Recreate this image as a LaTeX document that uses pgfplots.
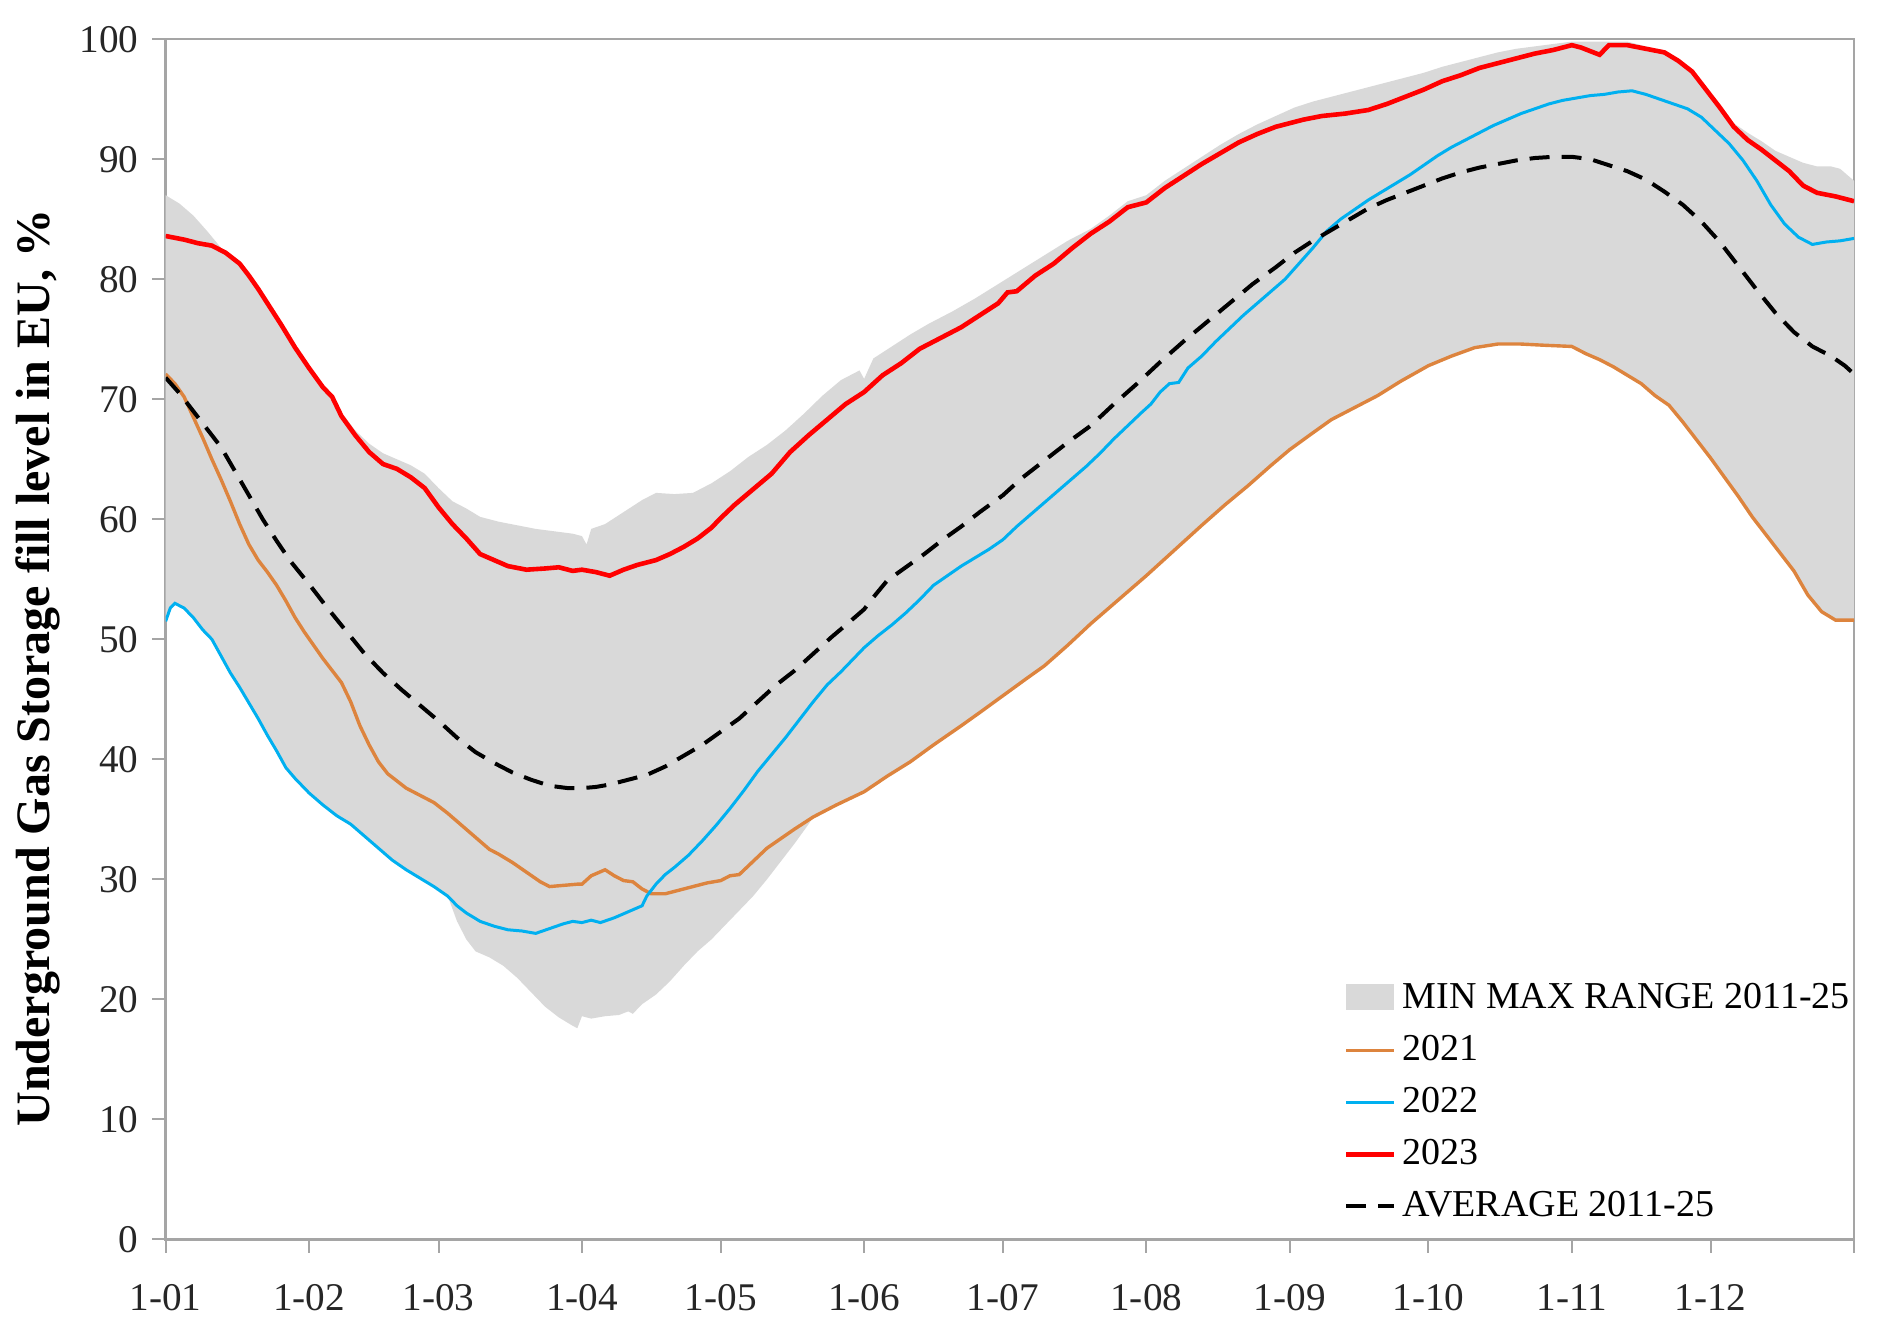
\documentclass[border=0pt]{standalone}
\usepackage{fontspec}
\setmainfont{Liberation Serif}
\usepackage{pgfplots}
\pgfplotsset{compat=1.18}
\definecolor{cfill}{RGB}{217,217,217}
\definecolor{c21}{RGB}{221,132,62}
\definecolor{c22}{RGB}{0,176,240}
\definecolor{c23}{RGB}{255,0,0}
\definecolor{caxis}{RGB}{165,165,165}
\begin{document}
\begin{tikzpicture}
\path[use as bounding box] (-41.4pt,-23.5pt) rectangle (428.5pt,309.8pt);
\begin{axis}[
  at={(0pt,0pt)}, anchor=south west,
  scale only axis, width=422pt, height=300pt,
  xmin=0, xmax=365, ymin=0, ymax=100,
  xtick={0,31,59,90,120,151,181,212,243,273,304,334,365},
  xticklabels={1-01,1-02,1-03,1-04,1-05,1-06,1-07,1-08,1-09,1-10,1-11,1-12,{}},
  ytick={0,10,...,100},
  tick pos=left, tick align=outside, major tick length=3.3pt,
  axis line style={caxis, line width=0.6pt},
  every tick/.style={caxis, line width=0.5pt},
  /pgf/number format/assume math mode=true,
  tick label style={font=\fontsize{9.8}{11}\selectfont, text=black!85},
  xticklabel style={yshift=-4.5pt},
  ylabel={Underground Gas Storage fill level in EU, \%},
  ylabel style={font=\fontsize{12}{14}\selectfont\bfseries, at={(axis description cs:-0.0755,0.476)}, anchor=center},
  legend cell align=left,
  legend style={draw=none, fill=none, at={(axis description cs:0.6975,0.007)}, anchor=south west,
    font=\fontsize{9.5}{11}\selectfont, inner sep=0pt, row sep=1pt,
    nodes={inner sep=1.5pt, text height=7pt, text depth=2pt}},
  legend image code/.code={\draw[#1] (0pt,0pt) -- (12pt,0pt);},
]
\addplot[fill=cfill, draw=none, legend image code/.code={\fill[cfill] (0pt,-3pt) rectangle (12pt,3.5pt);}] coordinates {
(0,87.0)(3,86.3)(6,85.3)(9,84.0)(12,82.6)(13,82.4)(16,81.5)(18,80.5)(20,79.4)(22,78.2)(25,76.4)(28,74.5)(31,72.8)(34,71.2)(36,70.4)(38,68.9)(41,67.4)(44,66.3)(47,65.5)(50,65.0)(53,64.5)(56,63.8)(59,62.6)(62,61.5)(65,60.9)(68,60.2)(72,59.8)(76,59.5)(80,59.2)(84,59.0)(88,58.8)(90,58.6)(91,57.9)(92,59.2)(95,59.6)(99,60.6)(103,61.6)(106,62.2)(110,62.1)(114,62.2)(118,63.0)(122,64.0)(126,65.2)(130,66.2)(134,67.4)(138,68.8)(142,70.3)(146,71.6)(150,72.4)(151,71.7)(153,73.4)(157,74.4)(161,75.4)(165,76.3)(170,77.3)(175,78.4)(180,79.6)(185,80.8)(190,82.0)(195,83.2)(200,84.2)(204,85.3)(208,86.5)(212,87.0)(216,88.2)(220,89.2)(224,90.2)(228,91.2)(232,92.1)(236,92.9)(240,93.6)(244,94.3)(248,94.8)(252,95.2)(256,95.6)(260,96.0)(264,96.4)(268,96.8)(272,97.2)(276,97.7)(280,98.1)(284,98.5)(288,98.9)(292,99.2)(296,99.4)(300,99.6)(304,99.8)(310,99.8)(316,99.8)(320,99.4)(324,99.0)(327,98.3)(330,97.4)(333,96.0)(336,94.6)(339,93.0)(342,92.2)(345,91.5)(348,90.7)(351,90.2)(354,89.7)(357,89.4)(360,89.4)(362,89.2)(365,88.2)
(365,51.6)(361,51.6)(358,52.3)(355,53.7)(352,55.7)(349,57.2)(346,58.7)(343,60.2)(340,61.9)(337,63.5)(334,65.1)(331,66.6)(328,68.1)(325,69.5)(322,70.3)(319,71.3)(316,72.0)(313,72.7)(310,73.3)(307,73.8)(304,74.4)(298,74.5)(293,74.6)(288,74.6)(283,74.3)(278,73.6)(273,72.8)(267,71.5)(262,70.3)(257,69.3)(252,68.3)(248,67.2)(243,65.8)(239,64.5)(234,62.8)(229,61.2)(224,59.5)(218,57.4)(212,55.3)(206,53.3)(200,51.3)(195,49.5)(190,47.8)(186,46.7)(181,45.3)(176,43.9)(172,42.8)(166,41.2)(161,39.8)(156,38.6)(151,37.3)(145,36.2)(140,35.2)(139,34.6)(136,33.0)(133,31.5)(130,30.0)(127,28.6)(124,27.4)(121,26.2)(118,25.0)(115,24.0)(112,22.8)(109,21.5)(106,20.4)(103,19.6)(101,18.8)(100,19.0)(98,18.7)(95,18.6)(92,18.4)(90,18.6)(89,17.6)(88,17.8)(85,18.5)(82,19.4)(79,20.6)(76,21.8)(73,22.8)(70,23.5)(67,24.0)(65,25.0)(63,26.5)(61,28.6)(58,29.4)(55,30.1)(52,30.8)(49,31.6)(46,32.6)(43,33.6)(40,34.6)(37,35.3)(34,36.2)(31,37.2)(28,38.4)(26,39.3)(24,40.7)(22,42.0)(20,43.4)(18,44.7)(16,46.0)(14,47.2)(12,48.6)(10,50.0)(8,50.8)(6,51.8)(4,52.6)(2,53.0)(1,52.6)(0,51.5)
} -- cycle;
\addlegendentry{MIN MAX RANGE 2011-25}
\addplot[c21, line width=0.85pt] coordinates {
(0,72.1)(2,71.3)(4,70.2)(6,68.5)(8,66.8)(10,65.0)(12,63.3)(14,61.5)(16,59.6)(18,57.9)(20,56.6)(22,55.6)(24,54.5)(26,53.2)(28,51.8)(30,50.6)(32,49.5)(34,48.4)(36,47.4)(38,46.4)(40,44.8)(42,42.8)(44,41.2)(46,39.8)(48,38.8)(50,38.2)(52,37.6)(55,37.0)(58,36.4)(61,35.5)(64,34.5)(67,33.5)(70,32.5)(72,32.1)(75,31.4)(78,30.6)(81,29.8)(83,29.4)(86,29.5)(89,29.6)(90,29.6)(92,30.3)(95,30.8)(97,30.3)(99,29.9)(101,29.8)(103,29.2)(105,28.8)(108,28.8)(111,29.1)(114,29.4)(117,29.7)(120,29.9)(122,30.3)(124,30.4)(127,31.5)(130,32.6)(133,33.4)(136,34.2)(140,35.2)(145,36.2)(151,37.3)(156,38.6)(161,39.8)(166,41.2)(172,42.8)(176,43.9)(181,45.3)(186,46.7)(190,47.8)(195,49.5)(200,51.3)(206,53.3)(212,55.3)(218,57.4)(224,59.5)(229,61.2)(234,62.8)(239,64.5)(243,65.8)(248,67.2)(252,68.3)(257,69.3)(262,70.3)(267,71.5)(273,72.8)(278,73.6)(283,74.3)(288,74.6)(293,74.6)(298,74.5)(304,74.4)(307,73.8)(310,73.3)(313,72.7)(316,72.0)(319,71.3)(322,70.3)(325,69.5)(328,68.1)(331,66.6)(334,65.1)(337,63.5)(340,61.9)(343,60.2)(346,58.7)(349,57.2)(352,55.7)(355,53.7)(358,52.3)(361,51.6)(365,51.6)
};
\addlegendentry{2021}
\addplot[c22, line width=0.75pt] coordinates {
(0,51.5)(1,52.6)(2,53.0)(4,52.6)(6,51.8)(8,50.8)(10,50.0)(12,48.6)(14,47.2)(16,46.0)(18,44.7)(20,43.4)(22,42.0)(24,40.7)(26,39.3)(28,38.4)(31,37.2)(34,36.2)(37,35.3)(40,34.6)(43,33.6)(46,32.6)(49,31.6)(52,30.8)(55,30.1)(58,29.4)(61,28.6)(63,27.8)(65,27.2)(68,26.5)(71,26.1)(74,25.8)(77,25.7)(80,25.5)(83,25.9)(86,26.3)(88,26.5)(90,26.4)(92,26.6)(94,26.4)(97,26.8)(100,27.3)(103,27.8)(104,28.6)(106,29.6)(108,30.4)(110,31.0)(113,32.0)(116,33.2)(119,34.5)(122,35.9)(125,37.4)(128,39.0)(131,40.4)(134,41.8)(137,43.3)(140,44.8)(143,46.2)(146,47.3)(149,48.5)(151,49.3)(154,50.3)(157,51.2)(160,52.2)(163,53.3)(166,54.5)(169,55.3)(172,56.1)(175,56.8)(178,57.5)(181,58.3)(184,59.4)(187,60.4)(190,61.4)(193,62.4)(196,63.4)(199,64.4)(202,65.5)(205,66.7)(208,67.8)(211,68.9)(213,69.6)(215,70.6)(217,71.3)(219,71.4)(221,72.6)(224,73.6)(227,74.8)(230,75.9)(233,77.0)(236,78.0)(239,79.0)(242,80.0)(245,81.3)(248,82.6)(251,84.0)(254,85.0)(257,85.8)(260,86.6)(263,87.3)(266,88.0)(269,88.7)(272,89.5)(275,90.3)(278,91.0)(281,91.6)(284,92.2)(287,92.8)(290,93.3)(293,93.8)(296,94.2)(299,94.6)(302,94.9)(305,95.1)(308,95.3)(311,95.4)(314,95.6)(317,95.7)(320,95.4)(323,95.0)(326,94.6)(329,94.2)(332,93.5)(335,92.4)(338,91.3)(341,89.9)(344,88.2)(347,86.2)(350,84.6)(353,83.5)(356,82.9)(359,83.1)(362,83.2)(365,83.4)
};
\addlegendentry{2022}
\addplot[c23, line width=1.15pt] coordinates {
(0,83.6)(4,83.3)(7,83.0)(10,82.8)(13,82.2)(16,81.3)(18,80.3)(20,79.2)(22,78.0)(25,76.2)(28,74.3)(31,72.6)(34,71.0)(36,70.2)(38,68.6)(41,67.0)(44,65.6)(47,64.6)(50,64.2)(53,63.5)(56,62.6)(59,61.0)(62,59.6)(65,58.4)(68,57.1)(71,56.6)(74,56.1)(78,55.8)(82,55.9)(85,56.0)(88,55.7)(90,55.8)(93,55.6)(96,55.3)(99,55.8)(102,56.2)(106,56.6)(109,57.1)(112,57.7)(115,58.4)(118,59.3)(120,60.1)(123,61.2)(127,62.5)(131,63.8)(135,65.6)(139,67.0)(143,68.3)(147,69.6)(151,70.6)(155,72.0)(159,73.0)(163,74.2)(167,75.0)(172,76.0)(176,77.0)(180,78.0)(182,78.9)(184,79.0)(188,80.3)(192,81.3)(196,82.6)(200,83.8)(204,84.8)(208,86.0)(212,86.4)(216,87.6)(220,88.6)(224,89.6)(228,90.5)(232,91.4)(236,92.1)(240,92.7)(243,93.0)(246,93.3)(250,93.6)(255,93.8)(260,94.1)(264,94.6)(268,95.2)(272,95.8)(276,96.5)(280,97.0)(284,97.6)(288,98.0)(292,98.4)(296,98.8)(300,99.1)(304,99.5)(306,99.3)(308,99.0)(310,98.7)(312,99.5)(316,99.5)(320,99.2)(324,98.9)(327,98.2)(330,97.3)(333,95.8)(336,94.3)(339,92.7)(342,91.6)(345,90.8)(348,89.9)(351,89.0)(354,87.8)(357,87.2)(361,86.9)(365,86.5)
};
\addlegendentry{2023}
\addplot[black, line width=1pt, dash pattern=on 5pt off 3pt] coordinates {
(0,71.8)(3,70.5)(6,69.0)(9,67.5)(12,66.0)(15,64.0)(18,62.0)(21,60.0)(24,58.2)(27,56.5)(31,54.6)(35,52.6)(39,50.7)(43,48.8)(47,47.2)(51,45.8)(55,44.5)(59,43.2)(63,41.8)(67,40.6)(71,39.7)(75,38.9)(79,38.3)(83,37.8)(87,37.6)(90,37.6)(93,37.7)(96,37.9)(100,38.3)(104,38.7)(108,39.4)(112,40.3)(116,41.2)(120,42.3)(124,43.4)(128,44.8)(132,46.2)(136,47.4)(140,48.8)(144,50.2)(148,51.5)(151,52.5)(153,53.5)(156,54.9)(160,56.0)(164,57.1)(168,58.3)(172,59.4)(176,60.6)(181,62.0)(185,63.4)(190,64.9)(195,66.4)(200,67.8)(205,69.6)(210,71.3)(215,73.1)(220,74.8)(225,76.4)(230,78.0)(235,79.6)(240,81.0)(244,82.2)(248,83.2)(252,84.1)(256,85.0)(260,85.9)(264,86.6)(268,87.2)(272,87.8)(276,88.4)(280,88.9)(284,89.3)(288,89.6)(292,89.9)(296,90.1)(300,90.2)(304,90.2)(308,90.0)(312,89.5)(316,89.0)(320,88.3)(324,87.3)(328,86.2)(332,84.8)(336,83.1)(340,81.1)(344,79.1)(348,77.2)(352,75.6)(356,74.4)(360,73.6)(363,72.8)(365,72.1)
};
\addlegendentry{AVERAGE 2011-25}
\end{axis}
\end{tikzpicture}
\end{document}
